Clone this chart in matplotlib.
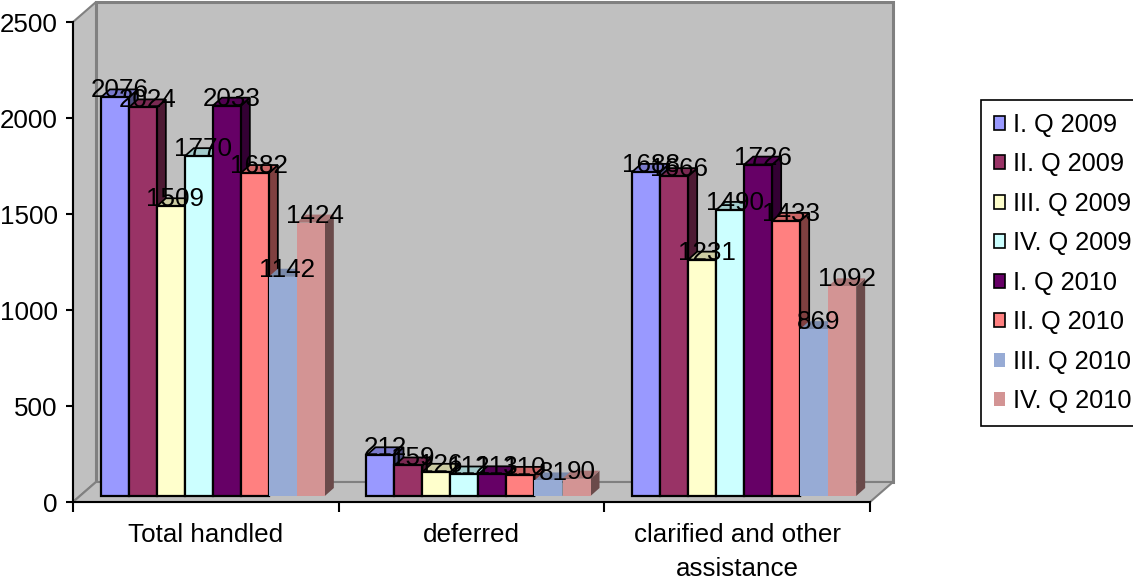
import matplotlib
matplotlib.use("Agg")
import matplotlib.pyplot as plt
from matplotlib.patches import Polygon, Patch

plt.rcParams['font.family'] = ['Liberation Sans', 'DejaVu Sans']

categories = ["Total handled", "deferred", "clarified and other\nassistance"]
series_names = ["I. Q 2009", "II. Q 2009", "III. Q 2009", "IV. Q 2009",
                "I. Q 2010", "II. Q 2010", "III. Q 2010", "IV. Q 2010"]
values_total = [2076, 2024, 1509, 1770, 2033, 1682, 1142, 1424]
values_deferred = [212, 159, 126, 112, 113, 110, 81, 90]
values_clarified = [1688, 1666, 1231, 1490, 1726, 1433, 869, 1092]
yticks = [0, 500, 1000, 1500, 2000, 2500]

colors = ["#9999FF", "#993366", "#FFFFCC", "#CCFFFF",
          "#660066", "#FF8080", "#97ABD5", "#D39494"]
outlined = [True, True, True, True, True, True, False, False]

series_values = [[values_total[i], values_deferred[i], values_clarified[i]]
                 for i in range(len(series_names))]

W, H = 1133, 580
fig = plt.figure(figsize=(W / 100, H / 100), dpi=100)
ax_left, ax_right, ax_top, ax_bottom = 73, 870, 22, 502
ax = fig.add_axes([ax_left / W, 1 - ax_bottom / H,
                   (ax_right - ax_left) / W, (ax_bottom - ax_top) / H])
ax.set_xlim(0, 3)
ax.set_ylim(0, 2500)

# pixel -> data unit conversions
PX = 3 / (ax_right - ax_left)
PY = 2500 / (ax_bottom - ax_top)

FS = 18.7
wall = "#C0C0C0"
wall_edge = "#808080"

# 3D walls and floor
fdx, fdy = 23 * PX, 20 * PY
ax.add_patch(Polygon([(fdx, fdy), (3 + fdx, fdy), (3 + fdx, 2500 + fdy), (fdx, 2500 + fdy)],
                     closed=True, facecolor=wall, edgecolor=wall_edge, lw=2.2,
                     clip_on=False, zorder=0))
ax.add_patch(Polygon([(0, 0), (fdx, fdy), (fdx, 2500 + fdy), (0, 2500)],
                     closed=True, facecolor=wall, edgecolor=wall_edge, lw=1.5,
                     clip_on=False, zorder=0.5))
ax.add_patch(Polygon([(0, 0), (3, 0), (3 + fdx, fdy), (fdx, fdy)],
                     closed=True, facecolor=wall, edgecolor=wall_edge, lw=1.5,
                     clip_on=False, zorder=0.5))


def shade(c, f):
    r, g, b = matplotlib.colors.to_rgb(c)
    return (r * f, g * f, b * f)


bw = 28 * PX
off_x, off_y = 7 * PX, 6 * PY
ddx, ddy = 9 * PX, 8 * PY
n = len(series_names)

z = 1
labels = []
for j in range(len(categories)):
    for i in range(n):
        v = series_values[i][j]
        x0 = j + 0.5 + (i - n / 2) * bw + off_x
        x1 = x0 + bw
        b = off_y
        ec = "black" if outlined[i] else "none"
        lw = 1.6 if outlined[i] else 0
        ax.bar(x0, v, width=bw, bottom=b, align="edge", color=colors[i],
               edgecolor=ec, linewidth=lw, zorder=z + 0.2, clip_on=False)
        ax.add_patch(Polygon([(x1, b), (x1 + ddx, b + ddy), (x1 + ddx, b + v + ddy), (x1, b + v)],
                             closed=True, facecolor=shade(colors[i], 0.5), edgecolor=ec,
                             lw=lw * 0.8, zorder=z, clip_on=False))
        ax.add_patch(Polygon([(x0, b + v), (x0 + ddx, b + v + ddy), (x1 + ddx, b + v + ddy), (x1, b + v)],
                             closed=True, facecolor=shade(colors[i], 0.8), edgecolor=ec,
                             lw=lw * 0.8, zorder=z + 0.1, clip_on=False))
        z += 1
        labels.append((x0 + bw / 2 + ddx / 2, b + v, str(v)))

for x, y, s in labels:
    ax.text(x, y, s, ha="center", va="baseline", fontsize=FS, color="black",
            zorder=200, clip_on=False)

# axes styling
for side in ("top", "right"):
    ax.spines[side].set_visible(False)
for side in ("left", "bottom"):
    ax.spines[side].set_color("black")
    ax.spines[side].set_linewidth(1.5)
    ax.spines[side].set_zorder(150)

ax.set_yticks(yticks)
ax.set_yticklabels([str(t) for t in yticks])
ax.tick_params(axis="y", direction="out", length=5, width=1.5, pad=6,
               labelsize=FS, colors="black")

ax.set_xticks([0.5, 1.5, 2.5])
ax.set_xticklabels(categories, linespacing=1.55)
ax.set_xticks([0, 1, 2, 3], minor=True)
ax.tick_params(axis="x", which="major", length=0, pad=15, labelsize=FS)
ax.tick_params(axis="x", which="minor", direction="out", length=7, width=1.5)

handles = [Patch(facecolor=colors[i], edgecolor="black" if outlined[i] else colors[i],
                 linewidth=1.2 if outlined[i] else 0)
           for i in range(n)]
leg = fig.legend(handles, series_names, loc="upper left",
                 bbox_to_anchor=(981 / W, 1 - 100 / H), bbox_transform=fig.transFigure,
                 fontsize=FS * 0.98, frameon=True, fancybox=False, framealpha=1,
                 edgecolor="black", borderaxespad=0, borderpad=0.5,
                 labelspacing=0.61, handlelength=0.46, handleheight=0.46,
                 handletextpad=0.3)
leg.get_frame().set_linewidth(1.2)

fig.savefig("out.png", dpi=100, facecolor="white")
